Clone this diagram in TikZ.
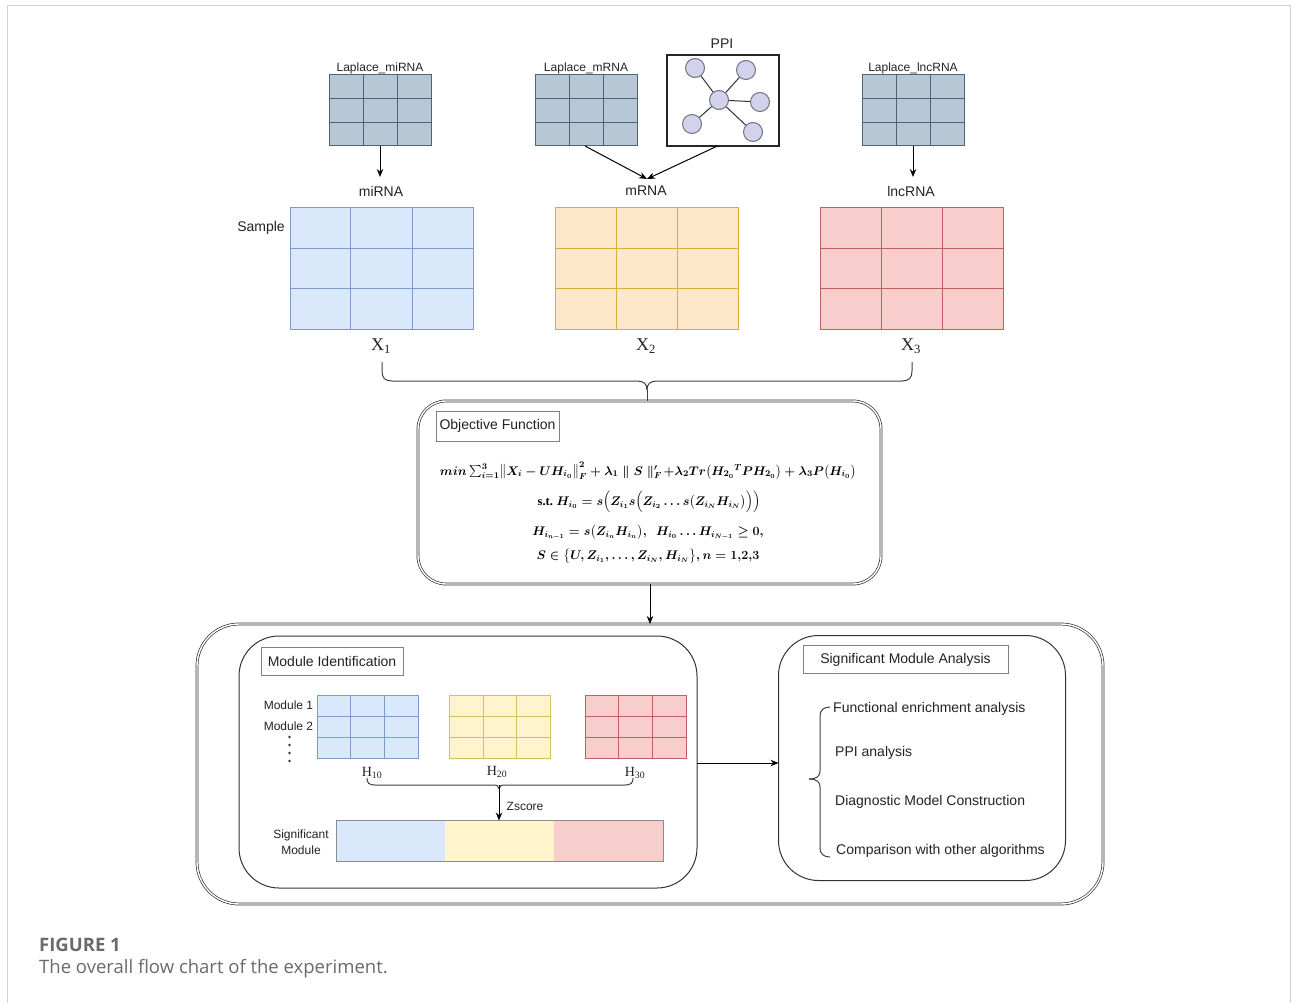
\RequirePackage{fix-cm}
\documentclass[tikz,border=0pt]{standalone}
\usepackage{amsmath}
\usepackage{fontspec}
\setmainfont{Liberation Sans}
\newfontfamily\serifF{Liberation Serif}
\newfontfamily\capF{Open Sans}
\usetikzlibrary{calc,arrows.meta}

\definecolor{framec}{HTML}{D0D0D0}
\definecolor{lapfill}{HTML}{B7C7D6}
\definecolor{lapdraw}{HTML}{4E6578}
\definecolor{bluefill}{HTML}{DAE8FC}
\definecolor{bluedraw}{HTML}{7C9CCB}
\definecolor{orfill}{HTML}{FCE8C8}
\definecolor{ordraw}{HTML}{D8AE40}
\definecolor{yelfill}{HTML}{FFF4CC}
\definecolor{yeldraw}{HTML}{D8C060}
\definecolor{redfill}{HTML}{F8CECC}
\definecolor{reddraw}{HTML}{BE615E}
\definecolor{ppifill}{HTML}{D2D2EC}
\definecolor{ppidraw}{HTML}{707080}
\definecolor{capgray}{HTML}{6A6A6A}
\definecolor{txt}{HTML}{222222}

\newcommand{\mygrid}[2]{%
  \foreach \f in {0.3333,0.6667}{%
    \draw[#2] ($(#1.north west)!\f!(#1.north east)$) -- ($(#1.south west)!\f!(#1.south east)$);
    \draw[#2] ($(#1.north west)!\f!(#1.south west)$) -- ($(#1.north east)!\f!(#1.south east)$);
  }}
\newcommand{\stxt}{\mbox{\serifF\bfseries s.t.}}

\begin{document}
\begin{tikzpicture}[x=1pt,y=-1pt,
  mat/.style={draw, inner sep=0pt, outer sep=0pt, line width=1pt},
  lbl/.style={inner sep=0pt, text=txt, font=\fontsize{14}{16}\selectfont},
  slbl/.style={inner sep=0pt, text=txt, font=\fontsize{12}{14}\selectfont},
  xlbl/.style={inner sep=0pt, text=txt, font=\serifF\fontsize{18}{20}\selectfont},
  hlbl/.style={inner sep=0pt, text=txt, font=\serifF\fontsize{14}{16}\selectfont},
  arr/.style={-{Stealth[length=8pt,width=6.5pt]}, line width=1pt, black},
  titlebox/.style={draw=black!50, fill=white, line width=0.8pt, inner sep=0pt, outer sep=0pt, text=txt, font=\fontsize{14}{16}\selectfont},
  dbl/.style={draw=black!80, double=white, double distance=1.4pt, line width=0.7pt, inner sep=0pt, outer sep=0pt},
  sgl/.style={draw=black!80, line width=1pt, inner sep=0pt, outer sep=0pt},
  brace/.style={draw=black!75, line width=1pt},
  ppin/.style={circle, draw=ppidraw, fill=ppifill, line width=1pt, minimum size=19pt, inner sep=0pt},
  math/.style={inner sep=0pt, text=black, font=\fontsize{12.5}{16}\selectfont\boldmath}
]
\useasboundingbox (0,0) rectangle (1293,1003);

% page frame
\draw[framec, line width=1.5pt] (7.5,1003) -- (7.5,5.5) -- (1290.5,5.5) -- (1290.5,1003);

% ---------- Laplace matrices ----------
\node[mat, draw=lapdraw, fill=lapfill, minimum width=102pt, minimum height=71pt] (lapmi) at (380,110.5) {};
\mygrid{lapmi}{lapdraw, line width=1pt}
\node[mat, draw=lapdraw, fill=lapfill, minimum width=102pt, minimum height=71pt] (lapm) at (586,110.5) {};
\mygrid{lapm}{lapdraw, line width=1pt}
\node[mat, draw=lapdraw, fill=lapfill, minimum width=102pt, minimum height=71pt] (lapl) at (913,110.5) {};
\mygrid{lapl}{lapdraw, line width=1pt}
\node[slbl] (tlapmi) at (380,68) {Laplace\_miRNA};
\node[slbl] (tlapm) at (586,68) {Laplace\_mRNA};
\node[slbl] (tlapl) at (913,68) {Laplace\_lncRNA};

% ---------- PPI ----------
\node[draw=black!85, line width=1.1pt, fill=white, minimum width=112pt, minimum height=91pt, inner sep=0pt, outer sep=0pt] (ppi) at (723,100.5) {};
\node[slbl, font=\fontsize{14}{16}\selectfont] (tppi) at (722,44) {PPI};
\node[ppin] (p0) at (719,100) {};
\node[ppin] (p1) at (695,68) {};
\node[ppin] (p2) at (746,70) {};
\node[ppin] (p3) at (760,102) {};
\node[ppin] (p4) at (692,124) {};
\node[ppin] (p5) at (753,132) {};
\foreach \n in {p1,p2,p3,p4,p5}{\draw[black!80, line width=1pt] (p0) -- (\n);}

% ---------- arrows to omics ----------
\coordinate (mconv) at (647,179);
\draw[arr] (lapmi.south) -- (380,177);
\draw[arr] (lapl.south) -- (913,177);
\draw[arr] ($(lapm.south west)!0.49!(lapm.south east)$) -- (mconv);
\draw[arr] ($(ppi.south west)!0.45!(ppi.south east)$) -- (mconv);

\node[lbl] (tmi) at (381,191) {miRNA};
\node[lbl] (tm) at (646,191) {mRNA};
\node[lbl] (tl) at (911,191) {lncRNA};
\node[lbl] (tsample) at (261,228) {Sample};

% ---------- omics matrices ----------
\node[mat, draw=bluedraw, fill=bluefill, minimum width=183pt, minimum height=121pt] (mmi) at (381.5,268.5) {};
\mygrid{mmi}{bluedraw, line width=1pt}
\node[mat, draw=ordraw, fill=orfill, minimum width=183pt, minimum height=121pt] (mm) at (646.5,268.5) {};
\mygrid{mm}{ordraw, line width=1pt}
\node[mat, draw=reddraw, fill=redfill, minimum width=183pt, minimum height=121pt] (ml) at (911.5,268.5) {};
\mygrid{ml}{reddraw, line width=1pt}

\node[xlbl] (x1) at (381,346) {X\textsubscript{1}};
\node[xlbl] (x2) at (646,346) {X\textsubscript{2}};
\node[xlbl] (x3) at (911,346) {X\textsubscript{3}};

% ---------- big brace ----------
\draw[brace] (382,362) -- (382,371) .. controls (382,378) and (385,381) .. (392,381) -- (637,381) .. controls (644,381) and (647,384) .. (647,390);
\draw[brace] (912,362) -- (912,371) .. controls (912,378) and (909,381) .. (902,381) -- (657,381) .. controls (650,381) and (647,384) .. (647,390);

% ---------- objective function ----------
\node[dbl, rounded corners=28pt, minimum width=463pt, minimum height=183pt] (obj) at (649.5,492.5) {};
\draw[brace] (647,390) -- (obj.north -| 647,0);
\node[titlebox, minimum width=123pt, minimum height=30pt] (objt) at (497.5,426) {Objective Function};
\node[math] (f1) at (648,471) {$min\textstyle\sum_{i=1}^{3}\bigl\|X_i-UH_{i_0}\bigr\|_F^2+\lambda_1\parallel S\parallel_F'\!+\lambda_2 Tr\bigl(H_{2_0}{}^{T}PH_{2_0}\bigr)+\lambda_3P\bigl(H_{i_0}\bigr)$};
\node[math] (f2) at (649,502) {$\stxt\ H_{i_0}=s\Bigl(Z_{i_1}s\Bigl(Z_{i_2}\dots s\bigl(Z_{i_N}H_{i_N}\bigr)\Bigr)\Bigr)$};
\node[math] (f3) at (648,532) {$H_{i_{n-1}}=s\bigl(Z_{i_n}H_{i_n}\bigr),\ \ H_{i_0}\dots H_{i_{N-1}}\geq 0,$};
\node[math] (f4) at (648,556) {$S\in\bigl\{U,Z_{i_1},\dots,Z_{i_N},H_{i_N}\bigr\},n=1{,}2{,}3$};

% ---------- outer box ----------
\node[dbl, rounded corners=42pt, minimum width=906pt, minimum height=280pt] (outer) at (650,764) {};
\draw[arr] (obj.south -| 650,0) -- (outer.north -| 650,0);

% ---------- module identification ----------
\node[sgl, rounded corners=40pt, minimum width=458pt, minimum height=252pt] (modid) at (468,762) {};
\node[titlebox, minimum width=142pt, minimum height=28pt] (modt) at (332,661) {Module Identification};

\node[mat, draw=bluedraw, fill=bluefill, minimum width=101pt, minimum height=63pt] (h1) at (367.5,727) {};
\mygrid{h1}{bluedraw, line width=1pt}
\node[mat, draw=yeldraw, fill=yelfill, minimum width=101pt, minimum height=63pt] (h2) at (500,727) {};
\mygrid{h2}{yeldraw, line width=1pt}
\node[mat, draw=reddraw, fill=redfill, minimum width=101pt, minimum height=63pt] (h3) at (635.5,727) {};
\mygrid{h3}{reddraw, line width=1pt}

\node[slbl] (mod1) at (288.5,705.5) {Module 1};
\node[slbl] (mod2) at (288.5,726) {Module 2};
\foreach \yy in {737,745,753,761}{\fill[black!80] (289.5,\yy) circle (1.3pt);}

\node[hlbl] (th1) at (372,773) {H\textsubscript{10}};
\node[hlbl] (th2) at (497,772) {H\textsubscript{20}};
\node[hlbl] (th3) at (635,773) {H\textsubscript{30}};

\draw[brace] (367,778) .. controls (367,783) and (369,785) .. (375,785) -- (493,785) .. controls (497,785) and (499,786) .. (499,789);
\draw[brace] (633,778) .. controls (633,783) and (631,785) .. (625,785) -- (505,785) .. controls (501,785) and (499,786) .. (499,789);

% significant module bar
\node[inner sep=0pt, outer sep=0pt, fill=bluefill, minimum width=109pt, minimum height=41pt] (s1) at (390.5,841) {};
\node[inner sep=0pt, outer sep=0pt, fill=yelfill, minimum width=109pt, minimum height=41pt] (s2) at (499.5,841) {};
\node[inner sep=0pt, outer sep=0pt, fill=redfill, minimum width=109pt, minimum height=41pt] (s3) at (608.5,841) {};
\draw[black!45, line width=1pt] (s1.north west) rectangle (s3.south east);
\draw[arr] (499,785) -- (s2.north -| 499,0);
\node[slbl] (zs) at (525,806) {Zscore};
\node[slbl, align=center, font=\fontsize{12}{16}\selectfont] (sigm) at (301,842) {Significant\\Module};

% ---------- significant module analysis ----------
\node[sgl, rounded corners=40pt, minimum width=287pt, minimum height=245pt] (sma) at (922,758) {};
\node[titlebox, minimum width=205pt, minimum height=28pt] (smat) at (905.5,659.5) {Significant Module Analysis};
\draw[arr] (modid.east |- 0,763) -- (sma.west |- 0,763);

\draw[brace] (830,707) .. controls (824,707) and (820,710) .. (820,716) -- (820,771) .. controls (820,776) and (817,779) .. (809,779);
\draw[brace] (809,779) .. controls (817,779) and (820,782) .. (820,787) -- (820,848) .. controls (820,854) and (824,857) .. (830,857);

\node[lbl, anchor=west] (it1) at (833,709) {Functional enrichment analysis};
\node[lbl, anchor=west] (it2) at (835,753) {PPI analysis};
\node[lbl, anchor=west] (it3) at (835,802) {Diagnostic Model Construction};
\node[lbl, anchor=west] (it4) at (836,851) {Comparison with other algorithms};

% ---------- caption ----------
\node[anchor=west, inner sep=0pt, text=capgray, font=\capF\bfseries\fontsize{18.5}{20}\selectfont] (figl) at (39,944.5) {FIGURE 1};
\node[anchor=west, inner sep=0pt, text=capgray, font=\capF\fontsize{18.5}{20}\selectfont] (figc) at (39,969) {The overall flow chart of the experiment.};
\end{tikzpicture}
\end{document}
